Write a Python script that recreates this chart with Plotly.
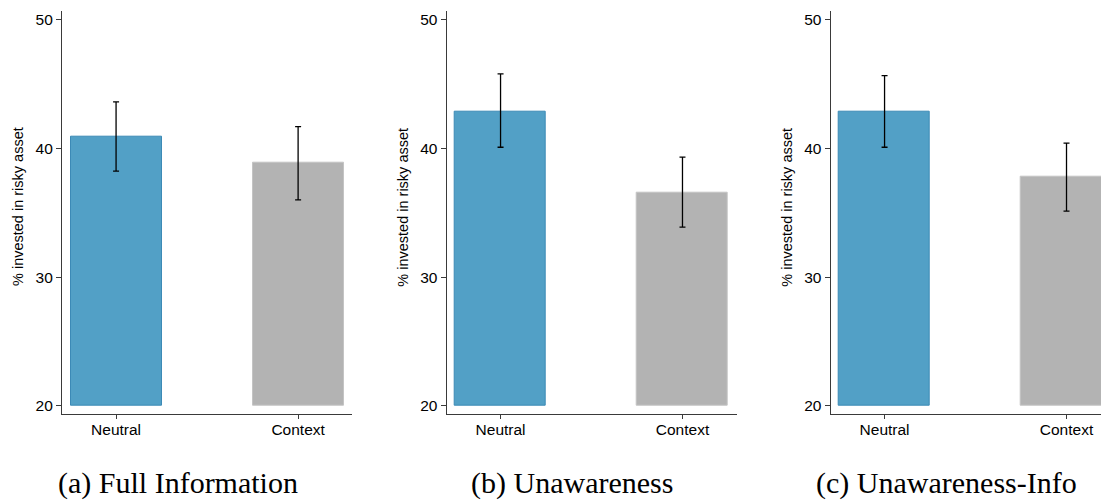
import plotly.graph_objects as go

# The page body adds an 8 px margin, so the figure is drawn 8 px smaller
# and every reference pixel position is shifted by OFF.
OFF = 8
W, H = 1109 - OFF, 502 - OFF

panel_titles = ["(a) Full Information", "(b) Unawareness", "(c) Unawareness-Info"]
categories = ["Neutral", "Context"]
neutral_means = [40.9, 42.9, 42.87]
context_means = [38.87, 36.56, 37.78]
neutral_lo = [38.24, 40.1, 40.1]
neutral_hi = [43.63, 45.8, 45.67]
context_lo = [36.01, 33.89, 35.14]
context_hi = [41.71, 39.33, 40.42]
y_ticks = [20, 30, 40, 50]
y_title = "% invested in risky asset"

BLUE = "rgb(82,160,198)"
BLUE_EDGE = "rgb(60,138,182)"
GRAY = "rgb(179,179,179)"
GRAY_EDGE = "rgb(196,196,196)"
AXIS = "#3a3a3a"
BASE = 20

# layout geometry (reference pixels)
x_domains_px = [(62, 352), (446.7, 736.7), (830.7, 1109)]
x_ranges = [(-0.297, 1.296), (-0.296, 1.298), (-0.296, 1.2335)]
y_top_px, y_bot_px = 10.7, 414
y_range = (19.354, 50.72)
ytitle_x_px = [18, 402.7, 786.7]
ytitle_y_px = 207
caption_x_px = [177.5, 571.5, 946]


def fx(px):
    return (px - OFF) / W


def fy(px):
    return (H - (px - OFF)) / H


fig = go.Figure()
for i in range(3):
    xa = "x" if i == 0 else f"x{i+1}"
    ya = "y" if i == 0 else f"y{i+1}"
    means = [neutral_means[i], context_means[i]]
    fig.add_trace(go.Bar(
        x=[0, 1], y=[m - BASE for m in means], base=BASE,
        width=0.5,
        marker=dict(color=[BLUE, GRAY], line=dict(color=[BLUE_EDGE, GRAY_EDGE], width=1)),
        xaxis=xa, yaxis=ya, showlegend=False, hoverinfo="skip",
    ))
    lo = [neutral_lo[i], context_lo[i]]
    hi = [neutral_hi[i], context_hi[i]]
    fig.add_trace(go.Scatter(
        x=[0, 1], y=means, mode="markers",
        marker=dict(size=1, opacity=0),
        error_y=dict(type="data", symmetric=False,
                     array=[h - m for h, m in zip(hi, means)],
                     arrayminus=[m - l for m, l in zip(means, lo)],
                     color="black", thickness=1.3, width=3),
        xaxis=xa, yaxis=ya, showlegend=False, hoverinfo="skip",
    ))

layout = dict(
    width=W, height=H,
    margin=dict(l=0, r=0, t=0, b=0),
    paper_bgcolor="white", plot_bgcolor="white",
    font=dict(family="Liberation Sans, Arial, sans-serif", size=15, color="black"),
    bargap=0,
)
annotations = []
for i in range(3):
    sfx = "" if i == 0 else str(i + 1)
    d0, d1 = x_domains_px[i]
    layout["xaxis" + sfx] = dict(
        domain=[fx(d0), min(1.0, fx(d1))], range=list(x_ranges[i]), anchor="y" + sfx,
        tickmode="array", tickvals=[0, 1], ticktext=categories,
        showline=True, linecolor=AXIS, linewidth=1.2,
        ticks="outside", ticklen=4, tickwidth=1, tickcolor=AXIS,
        ticklabelstandoff=-3,
        showgrid=False, zeroline=False, fixedrange=True,
        tickfont=dict(size=15.5, color="black"),
    )
    layout["yaxis" + sfx] = dict(
        domain=[fy(y_bot_px), fy(y_top_px)], range=list(y_range), anchor="x" + sfx,
        tickmode="array", tickvals=y_ticks,
        showline=True, linecolor=AXIS, linewidth=1.2,
        ticks="outside", ticklen=5, tickwidth=1, tickcolor=AXIS,
        showgrid=False, zeroline=False, fixedrange=True,
        tickfont=dict(size=15.5, color="black"),
    )
    annotations.append(dict(
        text=y_title, textangle=-90, xref="paper", yref="paper",
        x=fx(ytitle_x_px[i]), y=fy(ytitle_y_px), xanchor="center", yanchor="middle",
        showarrow=False, font=dict(size=14.5, color="black", family="Liberation Sans, Arial, sans-serif"),
    ))
    annotations.append(dict(
        text=panel_titles[i], xref="paper", yref="paper",
        x=fx(caption_x_px[i]), y=0, xanchor="center", yanchor="bottom",
        showarrow=False, font=dict(size=30, color="black", family="Liberation Serif, Times New Roman, serif"),
    ))
layout["annotations"] = annotations
fig.update_layout(**layout)

fig.write_html("out.html")
